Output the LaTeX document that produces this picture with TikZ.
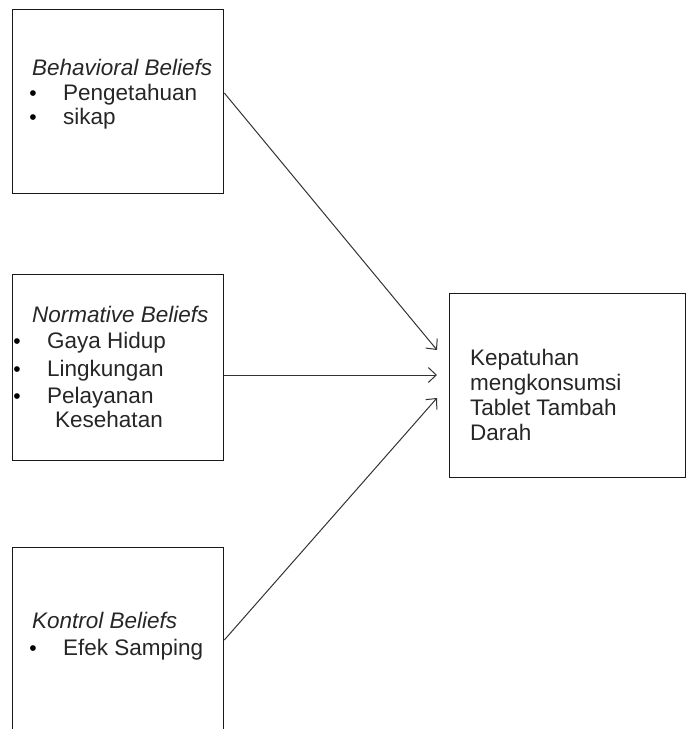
\documentclass[tikz,border=0pt]{standalone}
\usepackage{fontspec}
\setmainfont{Liberation Sans}
\usetikzlibrary{arrows.meta, positioning, calc}

\begin{document}
\begin{tikzpicture}[x=1pt, y=-1pt,
  kotak/.style={draw=black!90, line width=1.3pt, inner sep=0pt, anchor=north west},
  teks/.style={anchor=base west, inner sep=0pt, font=\fontsize{22.5}{25}\selectfont, text=black!85},
  titik/.style={anchor=base, inner sep=0pt, font=\fontsize{21}{25}\selectfont, text=black},
  panah/.style={draw=black!80, line width=1pt, -{Straight Barb[length=8pt, width=15pt]}}]
  \clip (0,0) rectangle (687,729);

  % kotak
  \node[kotak, minimum width=211pt, minimum height=184pt] (bb) at (12,9) {};
  \node[kotak, minimum width=211pt, minimum height=186pt] (nb) at (12,274) {};
  \node[kotak, minimum width=211pt, minimum height=230pt] (kb) at (12,547) {};
  \node[kotak, minimum width=236pt, minimum height=184pt] (kp) at (449,293) {};

  % Behavioral Beliefs
  \node[teks] (bb_judul) at (32,75) {\textit{Behavioral Beliefs}};
  \node[titik] (bb_t1) at (33,100) {\textbullet};
  \node[teks] (bb_1) at (63,100) {Pengetahuan};
  \node[titik] (bb_t2) at (33,124) {\textbullet};
  \node[teks] (bb_2) at (63,124) {sikap};

  % Normative Beliefs
  \node[teks] (nb_judul) at (32,322) {\textit{Normative Beliefs}};
  \node[titik] (nb_t1) at (17,348) {\textbullet};
  \node[teks] (nb_1) at (47,348) {Gaya Hidup};
  \node[titik] (nb_t2) at (17,376) {\textbullet};
  \node[teks] (nb_2) at (47,376) {Lingkungan};
  \node[titik] (nb_t3) at (17,403) {\textbullet};
  \node[teks] (nb_3) at (47,403) {Pelayanan};
  \node[teks] (nb_3b) at (55,427) {Kesehatan};

  % Kontrol Beliefs
  \node[teks] (kb_judul) at (32,628) {\textit{Kontrol Beliefs}};
  \node[titik] (kb_t1) at (33,655) {\textbullet};
  \node[teks] (kb_1) at (63,655) {Efek Samping};

  % Kepatuhan
  \node[teks] (kp_1) at (470,365) {Kepatuhan};
  \node[teks] (kp_2) at (470,390) {mengkonsumsi};
  \node[teks] (kp_3) at (470,415) {Tablet Tambah};
  \node[teks] (kp_4) at (470,440) {Darah};

  \draw[panah] ($(bb.north east)+(0,84)$) -- ($(kp.north west)+(-12,57)$);
  \draw[panah] ($(nb.north east)+(0,101)$) -- ($(kp.north west)+(-12,82)$);
  \draw[panah] ($(kb.north east)+(0,93)$) -- ($(kp.north west)+(-12,105)$);
\end{tikzpicture}
\end{document}
